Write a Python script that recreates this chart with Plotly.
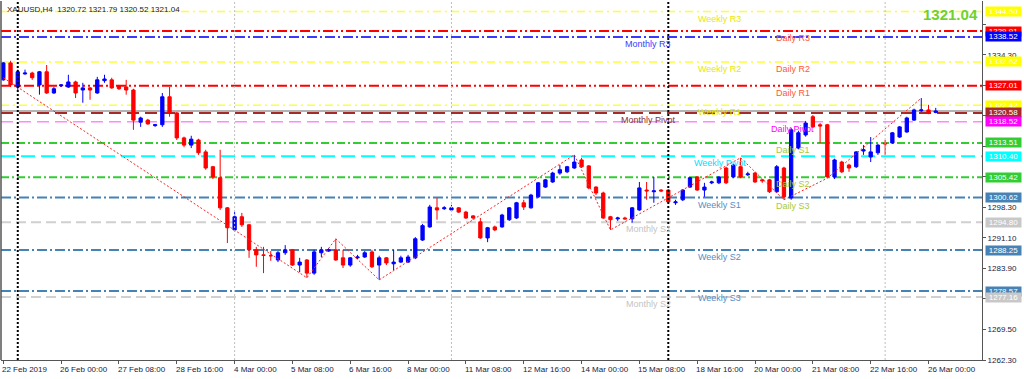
import plotly.graph_objects as go

# ---------------- data (XAUUSD H4) ----------------
opens = [1328.4, 1332.4, 1326.7, 1329.8, 1330.0, 1327.2, 1330.3, 1325.3, 1327.0, 1326.7,
         1327.9, 1326.0, 1326.5, 1325.3, 1328.2, 1328.4, 1327.0, 1326.7, 1326.0, 1318.4,
         1318.9, 1317.6, 1317.8, 1324.4, 1320.6, 1314.7, 1313.0, 1314.2, 1311.4, 1307.9,
         1305.3, 1298.2, 1293.0, 1296.1, 1294.2, 1288.3, 1287.1, 1286.9, 1285.9, 1287.6,
         1288.3, 1284.7, 1285.9, 1282.8, 1287.6, 1288.0, 1288.3, 1286.4, 1284.7, 1286.4,
         1286.6, 1287.8, 1284.7, 1286.4, 1285.0, 1285.4, 1285.4, 1286.4, 1290.6, 1293.7,
         1298.2, 1298.0, 1297.7, 1298.2, 1297.2, 1296.3, 1294.9, 1291.1, 1293.7, 1293.7,
         1295.4, 1295.8, 1299.4, 1298.2, 1300.8, 1303.1, 1304.3, 1306.4, 1306.7, 1307.6,
         1309.5, 1308.1, 1303.1, 1301.7, 1296.1, 1295.6, 1295.8, 1295.6, 1297.7, 1302.4,
         1302.0, 1302.4, 1302.4, 1299.4, 1300.1, 1303.1, 1305.5, 1302.4, 1304.1, 1304.1,
         1307.6, 1305.5, 1307.9, 1306.0, 1306.4, 1304.8, 1304.8, 1302.0, 1307.6, 1300.5,
         1312.3, 1315.4, 1319.7, 1317.8, 1317.8, 1305.5, 1309.0, 1308.3, 1307.9, 1311.6,
         1310.2, 1311.2, 1313.5, 1313.5, 1314.9, 1316.1, 1318.9, 1321.1, 1321.3, 1320.72]
highs = [1332.6, 1332.9, 1330.8, 1330.8, 1330.3, 1330.5, 1331.9, 1326.7, 1327.4, 1329.6,
         1328.2, 1327.7, 1326.7, 1329.1, 1329.6, 1328.9, 1327.2, 1328.4, 1326.3, 1319.7,
         1319.2, 1318.0, 1325.3, 1326.7, 1320.8, 1315.0, 1315.2, 1314.5, 1311.9, 1308.1,
         1311.9, 1298.4, 1297.2, 1297.0, 1294.4, 1289.0, 1289.0, 1288.0, 1288.0, 1289.4,
         1288.5, 1286.4, 1286.1, 1288.3, 1289.0, 1288.7, 1290.9, 1288.3, 1286.6, 1287.1,
         1288.0, 1288.3, 1286.9, 1286.6, 1288.3, 1286.9, 1287.1, 1291.3, 1294.4, 1298.9,
         1300.5, 1298.6, 1298.9, 1298.4, 1297.5, 1296.5, 1295.8, 1293.7, 1294.0, 1296.8,
         1298.4, 1299.6, 1300.1, 1301.5, 1304.3, 1305.0, 1306.7, 1308.3, 1308.1, 1310.7,
         1310.0, 1308.3, 1303.3, 1302.0, 1296.3, 1296.1, 1296.1, 1298.4, 1304.3, 1304.3,
         1305.5, 1302.6, 1302.6, 1300.1, 1302.6, 1305.5, 1305.7, 1304.1, 1304.6, 1305.7,
         1307.9, 1308.6, 1310.0, 1306.7, 1306.7, 1305.0, 1305.0, 1308.3, 1307.9, 1317.1,
         1316.4, 1318.7, 1320.1, 1318.2, 1318.0, 1309.8, 1309.3, 1308.6, 1311.6, 1313.0,
         1314.9, 1313.3, 1314.2, 1316.1, 1317.5, 1319.7, 1321.6, 1324.1, 1322.5, 1321.79]
lows = [1328.2, 1326.7, 1326.0, 1329.6, 1328.4, 1324.9, 1325.1, 1325.1, 1326.7, 1326.5,
        1324.1, 1323.0, 1323.7, 1325.1, 1327.7, 1326.3, 1326.0, 1324.9, 1316.6, 1317.3,
        1317.8, 1317.3, 1317.3, 1319.7, 1314.2, 1312.5, 1312.3, 1310.7, 1307.2, 1305.0,
        1297.7, 1289.9, 1292.5, 1293.7, 1286.4, 1284.3, 1282.8, 1285.7, 1285.4, 1287.1,
        1284.5, 1283.0, 1281.7, 1282.4, 1286.6, 1287.8, 1285.7, 1284.0, 1284.3, 1286.1,
        1286.4, 1284.0, 1281.2, 1284.7, 1283.5, 1285.2, 1285.2, 1286.1, 1290.4, 1293.5,
        1295.4, 1297.7, 1297.5, 1297.0, 1295.6, 1295.4, 1290.9, 1290.1, 1292.7, 1293.5,
        1295.1, 1295.6, 1297.7, 1298.0, 1300.5, 1302.9, 1304.1, 1306.0, 1306.4, 1307.4,
        1307.6, 1302.6, 1301.2, 1295.6, 1293.0, 1295.1, 1295.4, 1294.7, 1297.5, 1300.1,
        1299.4, 1301.9, 1299.4, 1298.9, 1299.8, 1302.9, 1302.2, 1300.8, 1303.8, 1303.8,
        1303.8, 1305.2, 1305.2, 1305.7, 1304.1, 1304.1, 1301.7, 1301.7, 1300.1, 1300.1,
        1312.0, 1315.0, 1317.1, 1313.5, 1305.2, 1305.0, 1306.4, 1306.7, 1307.6, 1310.7,
        1309.0, 1310.7, 1310.7, 1313.3, 1314.7, 1315.9, 1318.7, 1320.8, 1320.3, 1320.52]
closes = [1332.4, 1327.2, 1330.3, 1330.0, 1328.9, 1330.3, 1325.3, 1326.3, 1327.2, 1327.9,
          1325.3, 1326.5, 1326.0, 1328.4, 1328.6, 1326.5, 1326.3, 1326.0, 1318.9, 1319.4,
          1318.0, 1317.8, 1324.4, 1320.6, 1314.7, 1313.0, 1314.4, 1311.2, 1307.6, 1305.5,
          1298.2, 1293.5, 1296.1, 1294.2, 1288.3, 1287.1, 1287.0, 1286.9, 1287.6, 1288.3,
          1284.7, 1285.4, 1282.8, 1287.8, 1288.3, 1288.3, 1285.9, 1284.7, 1286.4, 1286.6,
          1287.6, 1284.3, 1286.4, 1285.2, 1285.4, 1286.4, 1286.6, 1290.9, 1294.0, 1298.4,
          1297.7, 1298.2, 1298.2, 1297.2, 1295.8, 1295.8, 1291.1, 1293.5, 1293.0, 1296.5,
          1298.2, 1299.4, 1298.4, 1301.2, 1304.1, 1304.8, 1306.4, 1307.2, 1307.9, 1309.0,
          1307.9, 1302.9, 1301.7, 1295.8, 1295.4, 1295.8, 1295.6, 1298.2, 1302.9, 1302.2,
          1302.2, 1302.2, 1299.6, 1299.6, 1302.4, 1305.3, 1302.4, 1303.1, 1304.3, 1305.5,
          1304.1, 1308.3, 1305.5, 1306.2, 1304.3, 1304.6, 1302.0, 1307.9, 1300.8, 1316.6,
          1315.9, 1318.2, 1317.3, 1317.5, 1305.5, 1309.5, 1306.7, 1307.6, 1311.4, 1311.9,
          1311.4, 1313.0, 1313.3, 1315.9, 1317.3, 1319.4, 1321.3, 1321.3, 1320.6, 1321.04]

time_labels = ["22 Feb 2019", "26 Feb 00:00", "27 Feb 08:00", "28 Feb 16:00", "4 Mar 00:00",
               "5 Mar 08:00", "6 Mar 16:00", "8 Mar 00:00", "11 Mar 08:00", "12 Mar 16:00",
               "14 Mar 00:00", "15 Mar 08:00", "18 Mar 16:00", "20 Mar 00:00", "21 Mar 08:00",
               "22 Mar 16:00", "26 Mar 00:00"]
time_label_bars = [0, 8, 16, 24, 32, 40, 48, 56, 64, 72, 80, 88, 96, 104, 112, 120, 128]

price_ticks = [1262.30, 1269.50, 1276.70, 1283.90, 1291.10, 1298.30,
               1305.50, 1312.70, 1319.90, 1327.10, 1334.30, 1341.50]
# tick labels that sit hidden behind the coloured price boxes
price_tick_hidden = [False, False, True, False, False, False,
                     True, True, True, True, False, True]

# pivot levels
level_names = ["Weekly R3", "Daily R3", "Monthly R3", "Weekly R2", "Daily R2", "Daily R1",
               "Weekly R1", "Monthly Pivot", "Daily Pivot", "Daily S1", "Weekly Pivot",
               "Daily S2", "Weekly S1", "Daily S3", "Monthly S1", "Weekly S2", "Weekly S3",
               "Monthly S2"]
level_values = [1344.50, 1339.91, 1338.52, 1332.62, 1332.50, 1327.01,
                1322.42, 1320.58, 1318.52, 1313.51, 1310.40,
                1305.42, 1300.62, 1300.30, 1294.80, 1288.25, 1278.57,
                1277.16]
level_shown = [True, True, True, True, False, True,
               True, True, True, True, True,
               True, True, False, True, True, True,
               True]

zigzag_bars = [0, 42, 46, 52, 79, 84, 102, 108, 114, 127]
zigzag_values = [1328.9, 1281.7, 1290.9, 1281.2, 1310.7, 1293.0, 1310.0, 1300.1, 1305.2, 1324.1]

separator_bars = [2, 32, 62, 92, 122]
separator_major = [True, False, False, True, False]

symbol = "XAUUSD,H4"
last_price = closes[-1]

# ---------------- styles ----------------
style = {
    "Weekly": dict(line="#FFFF33", text="#E8E800", dash="8px,4px,2px,4px", width=1.5, box="#FFFF00"),
    "Daily R": dict(line="#FF0000", text="#FF5A36", dash="10px,3px,2px,3px,2px,3px", width=2, box="#FF0000"),
    "Monthly R": dict(line="#3A3AFF", text="#3A3AFF", dash="10px,3px,2px,3px", width=2, box="#0000FF"),
    "Monthly Pivot": dict(line="#A52A2A", text="#8B2E3A", dash="12px,6px", width=2, box="#A52A2A"),
    "Daily Pivot": dict(line="#FF88FF", text="#FF00FF", dash="12px,6px", width=1.5, box="#FF00FF"),
    "Daily S": dict(line="#33CC33", text="#A8C93A", dash="8px,3px,2px,3px", width=2, box="#32CD32"),
    "Weekly Pivot": dict(line="#00FFFF", text="#00E0FF", dash="14px,6px", width=2, box="#00FFFF"),
    "Weekly S": dict(line="#4682B4", text="#5A8CC4", dash="10px,3px,2px,3px", width=2, box="#4682B4"),
    "Monthly S": dict(line="#D0D0D0", text="#C4C4C4", dash="10px,5px", width=2, box="#C8C8C8"),
}


def style_of(name):
    if name == "Monthly Pivot":
        return style["Monthly Pivot"]
    if name == "Daily Pivot":
        return style["Daily Pivot"]
    if name == "Weekly Pivot":
        return style["Weekly Pivot"]
    if name.startswith("Weekly R"):
        return style["Weekly"]
    if name.startswith("Weekly S"):
        return style["Weekly S"]
    if name.startswith("Daily R"):
        return style["Daily R"]
    if name.startswith("Daily S"):
        return style["Daily S"]
    if name.startswith("Monthly R"):
        return style["Monthly R"]
    return style["Monthly S"]


text_bar = {"Daily": 109.2, "Weekly": 99.1, "Monthly": 89.2}

bars = list(range(len(opens)))

fig = go.Figure()

fig.add_trace(go.Candlestick(
    x=bars, open=opens, high=highs, low=lows, close=closes,
    increasing=dict(line=dict(color="#0000FF", width=1), fillcolor="#0000FF"),
    decreasing=dict(line=dict(color="#FF0000", width=1), fillcolor="#FF0000"),
    whiskerwidth=0, showlegend=False, hoverinfo="skip",
))

fig.add_trace(go.Scatter(
    x=zigzag_bars, y=zigzag_values, mode="lines",
    line=dict(color="#FF2020", width=1, dash="2px,2px"),
    showlegend=False, hoverinfo="skip",
))

shapes = []
annotations = []

# current price line
shapes.append(dict(type="line", xref="paper", x0=0, x1=1, yref="y", y0=last_price, y1=last_price,
                   line=dict(color="#9A9A9A", width=1.5), layer="below"))

for name, val, shown in zip(level_names, level_values, level_shown):
    st = style_of(name)
    if shown:
        shapes.append(dict(type="line", xref="paper", x0=0, x1=1, yref="y", y0=val, y1=val,
                           line=dict(color=st["line"], width=st["width"], dash=st["dash"]),
                           layer="below"))
    group = name.split(" ")[0]
    annotations.append(dict(x=text_bar[group], xref="x", y=val, yref="y", text=name,
                            showarrow=False, yshift=-7, xanchor="center", yanchor="middle",
                            font=dict(family="Liberation Sans, Arial", size=9, color=st["text"])))

# right-axis price boxes
for name, val, shown in zip(level_names, level_values, level_shown):
    if not shown:
        continue
    st = style_of(name)
    annotations.append(dict(x=1, xref="paper", y=val, yref="y", text=f"{val:.2f}",
                            showarrow=False, xanchor="left", yanchor="middle", xshift=3,
                            bgcolor=st["box"], width=35, height=9, borderpad=0,
                            font=dict(family="Liberation Sans, Arial", size=8, color="#FFFFFF")))

# vertical separators
for b, major in zip(separator_bars, separator_major):
    shapes.append(dict(type="line", xref="x", x0=b, x1=b, yref="paper", y0=0, y1=1,
                       line=dict(color="#000000" if major else "#BEBEBE",
                                 width=2 if major else 1, dash="2px,2px")))

# left border
shapes.append(dict(type="line", xref="paper", x0=0, x1=0, yref="paper", y0=0, y1=1,
                   line=dict(color="#555555", width=1.5)))

# time labels
for b, lab in zip(time_label_bars, time_labels):
    annotations.append(dict(x=b, xref="x", y=0, yref="paper", text=lab, showarrow=False,
                            xanchor="left", yanchor="top", xshift=-3, yshift=-3,
                            font=dict(family="Liberation Sans, Arial", size=8, color="#1A1A40")))

# header
annotations.append(dict(x=0, xref="paper", y=1, yref="paper", xanchor="left", yanchor="top",
                        xshift=4, yshift=-2, showarrow=False,
                        text=f"{symbol}  {opens[-1]:.2f} {highs[-1]:.2f} {lows[-1]:.2f} {closes[-1]:.2f}",
                        font=dict(family="Liberation Sans, Arial", size=8, color="#1A1A1A")))
annotations.append(dict(x=1, xref="paper", y=1, yref="paper", xanchor="right", yanchor="top",
                        xshift=-2, yshift=-3, showarrow=False, text=f"<b>{last_price:.2f}</b>",
                        font=dict(family="Liberation Sans, Arial", size=15, color="#6FD12C")))

fig.update_layout(
    width=1024, height=379,
    margin=dict(l=1, r=42, t=1, b=19),
    paper_bgcolor="#FFFFFF", plot_bgcolor="#FFFFFF",
    showlegend=False, boxgap=0.35,
    shapes=shapes, annotations=annotations,
    xaxis=dict(range=[-0.32, 135.4], showgrid=False, zeroline=False, showline=True,
               linecolor="#555555", linewidth=1, ticks="outside", ticklen=3, tickcolor="#555555",
               tickvals=time_label_bars, showticklabels=False, rangeslider=dict(visible=False),
               fixedrange=True),
    yaxis=dict(range=[1262.30, 1347.0], side="right", showgrid=False, zeroline=False,
               showline=True, linecolor="#555555", linewidth=1, ticks="outside", ticklen=3,
               tickcolor="#555555", tickvals=price_ticks,
               ticktext=["" if h else f"{v:.2f}" for v, h in zip(price_ticks, price_tick_hidden)],
               tickfont=dict(family="Liberation Sans, Arial", size=8, color="#1A1A40"),
               fixedrange=True),
)

fig.write_html("out.html")
